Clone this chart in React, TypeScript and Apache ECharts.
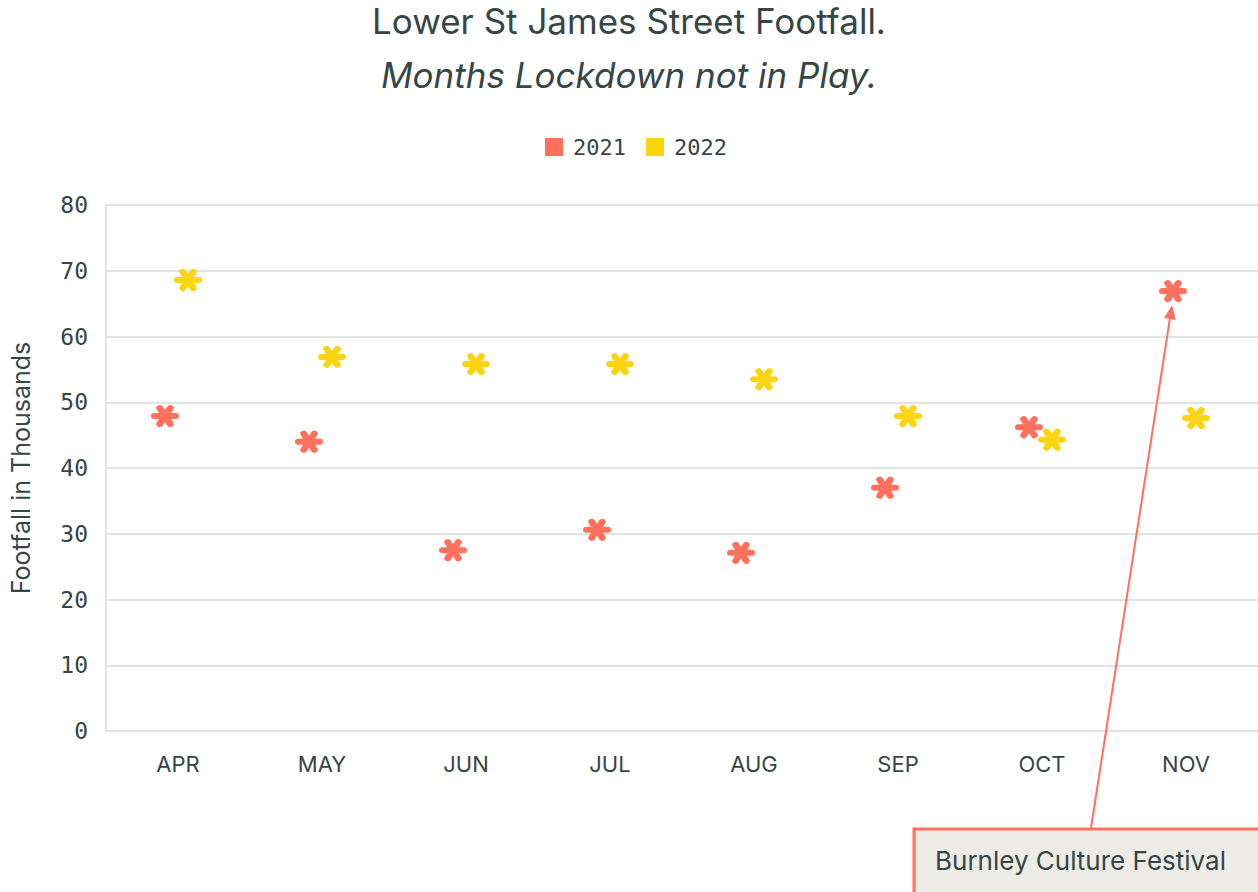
import React, { useEffect, useRef } from "react";
import * as echarts from "echarts";

const months = ["APR", "MAY", "JUN", "JUL", "AUG", "SEP", "OCT", "NOV"];
const values2021 = [47.9, 44.0, 27.5, 30.6, 27.1, 37.0, 46.2, 66.9];
const values2022 = [68.6, 56.9, 55.8, 55.8, 53.5, 47.9, 44.3, 47.6];
const yTicks = [0, 10, 20, 30, 40, 50, 60, 70, 80];
const annotationText = "Burnley Culture Festival";
const annotationIndex = 7;

const RED = "#ff705d";
const YELLOW = "#fdd410";
const TEXT = "#364545";

function capsule(angle: number, half: number, r: number): string {
  const c = Math.cos(angle), s = Math.sin(angle);
  const p = (x: number, y: number) => {
    const X = x * c - y * s + 20;
    const Y = x * s + y * c + 20;
    return `${X.toFixed(3)} ${Y.toFixed(3)}`;
  };
  return `M${p(-half, -r)} L${p(half, -r)} A${r} ${r} 0 0 1 ${p(half, r)} L${p(-half, r)} A${r} ${r} 0 0 1 ${p(-half, -r)} Z`;
}
const starPath =
  "path://" +
  [0, Math.PI / 3, (2 * Math.PI) / 3].map((a) => capsule(a, 10, 3.3)).join(" ");

export default function App() {
  const ref = useRef<HTMLDivElement>(null);
  useEffect(() => {
    if (!ref.current) return;
    const chart = echarts.init(ref.current, null, { renderer: "svg" });
    chart.setOption({
      animation: false,
      backgroundColor: "#ffffff",
      title: [
        {
          text: "Lower St James Street Footfall.",
          left: "center",
          top: -2,
          textStyle: { fontFamily: "Inter", fontSize: 35, fontWeight: "normal", color: TEXT },
        },
        {
          text: "Months Lockdown not in Play.",
          left: "center",
          top: 52,
          textStyle: { fontFamily: "Inter", fontSize: 35, fontWeight: "normal", fontStyle: "italic", color: TEXT },
        },
      ],
      legend: {
        top: 131,
        left: 540,
        itemWidth: 18,
        itemHeight: 18,
        itemGap: 20,
        icon: "rect",
        textStyle: { fontFamily: "DejaVu Sans Mono", fontSize: 22, color: TEXT, padding: [0, 0, 0, 5] },
        data: ["2021", "2022"],
      },
      grid: { left: 106, right: 0, top: 205, bottom: 161, containLabel: false, outerBoundsMode: "none" },
      xAxis: {
        type: "category",
        data: months,
        axisLine: { show: true, lineStyle: { color: "#dfe5e5", width: 2 } },
        axisTick: { show: false },
        axisLabel: { fontFamily: "Inter", fontSize: 22, color: TEXT, margin: 22 },
      },
      yAxis: {
        type: "value",
        min: 0,
        max: 80,
        interval: 10,
        name: "Footfall in Thousands",
        nameLocation: "middle",
        nameGap: 73,
        nameRotate: 90,
        nameTextStyle: { fontFamily: "Inter", fontSize: 25, color: TEXT },
        axisLine: { show: true, lineStyle: { color: "#dfe5e5", width: 2 } },
        axisTick: { show: false },
        splitLine: { lineStyle: { color: "#dfe5e5", width: 2 } },
        axisLabel: {
          fontFamily: "DejaVu Sans Mono",
          fontSize: 23,
          color: TEXT,
          margin: 18,
          formatter: (v: number) => (yTicks.includes(v) ? String(v) : ""),
        },
      },
      series: [
        {
          name: "2021",
          type: "scatter",
          data: values2021,
          symbol: starPath,
          symbolSize: [28, 22],
          symbolOffset: [-13, 0],
          itemStyle: { color: RED, opacity: 1 },
        },
        {
          name: "2022",
          type: "scatter",
          data: values2022,
          symbol: starPath,
          symbolSize: [28, 22],
          symbolOffset: [10, 0],
          itemStyle: { color: YELLOW, opacity: 1 },
        },
      ],
    });

    const pt = chart.convertToPixel({ seriesIndex: 0 }, [annotationIndex, values2021[annotationIndex]]) as number[];
    const tipX = pt[0] - 14;
    const tipY = pt[1] + 14;
    const startX = 1091;
    const startY = 828;
    const dx = tipX - startX, dy = tipY - startY;
    const len = Math.sqrt(dx * dx + dy * dy);
    const ux = dx / len, uy = dy / len;
    const headLen = 14, headW = 6;
    const bx = tipX - ux * headLen, by = tipY - uy * headLen;
    const px = -uy, py = ux;
    chart.setOption({
      graphic: [
        {
          type: "line",
          shape: { x1: startX, y1: startY, x2: bx, y2: by },
          style: { stroke: RED, lineWidth: 2 },
          z: 100,
        },
        {
          type: "polygon",
          shape: {
            points: [
              [tipX, tipY],
              [bx + px * headW, by + py * headW],
              [bx - px * headW, by - py * headW],
            ],
          },
          style: { fill: RED },
          z: 100,
        },
        {
          type: "rect",
          shape: { x: 914, y: 829, width: 360, height: 80 },
          style: { fill: "#edebe6", stroke: RED, lineWidth: 3 },
          z: 100,
        },
        {
          type: "text",
          x: 935,
          y: 860,
          style: {
            text: annotationText,
            fontFamily: "Inter",
            fontSize: 26,
            fill: TEXT,
            verticalAlign: "middle",
            textAlign: "left",
          },
          z: 101,
        },
      ],
    });
    return () => chart.dispose();
  }, []);
  return (
    <div
      ref={ref}
      style={{ position: "fixed", left: 0, top: 0, width: 1258, height: 892 }}
    />
  );
}
